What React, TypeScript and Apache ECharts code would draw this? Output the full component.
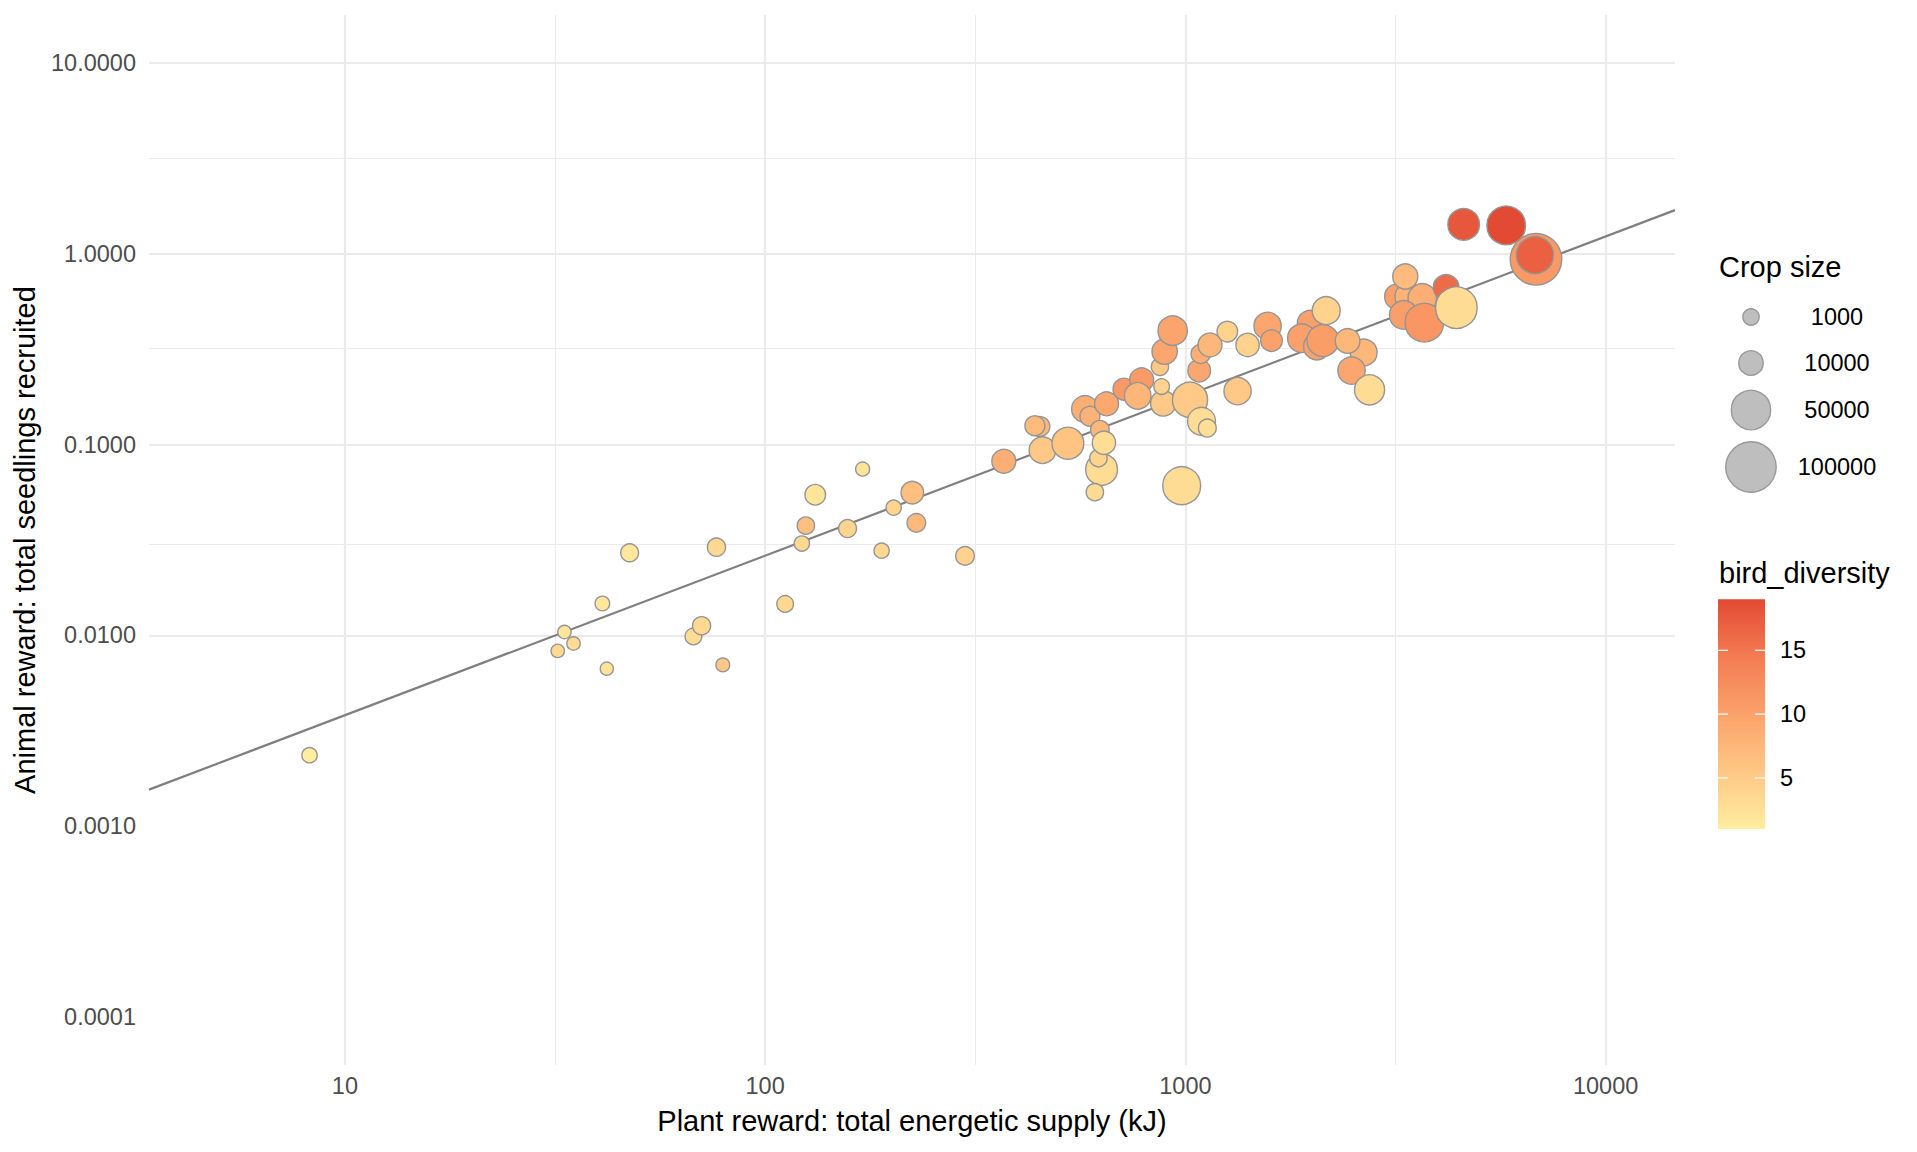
import React, { useEffect, useRef } from "react";
import * as echarts from "echarts";

// Per-plant observations (same order in every array)
const plantReward = [
  8.24, 32.1, 33.3, 35.0, 41.0, 42.0, 47.6, 67.5, 70.6, 76.6, 79.3, 111.6, 122.3, 125.0, 131.6,
  157.1, 170.6, 189.3, 202.2, 224, 229, 299, 369.8, 450.5, 438.4, 457, 525.3, 576.7, 592.7, 626,
  649.4, 631.8, 621, 640, 609, 714.3, 787, 770, 885.6, 878, 869.9, 892.6, 932.7, 980, 1025.6,
  1092.5, 1127.8, 1078.6, 1087.6, 1144.5, 1258.5, 1406, 1331, 1569, 1603, 1981, 1893, 2055, 2124,
  2163, 2656, 2432, 2485, 2743, 3193, 3401, 3662, 3309, 3703, 3336, 4172, 4414, 6828, 6790, 4594,
  5799,
];
const animalReward = [
  0.00236, 0.0083, 0.01043, 0.00908, 0.0147, 0.0067, 0.0271, 0.00988, 0.01124, 0.029, 0.00701,
  0.01462, 0.0303, 0.0376, 0.0546, 0.0363, 0.0744, 0.0278, 0.0467, 0.056, 0.0389, 0.0261, 0.0818,
  0.1244, 0.1254, 0.0934, 0.1016, 0.1535, 0.1406, 0.1195, 0.1634, 0.0741, 0.0848, 0.1022, 0.0563,
  0.1951, 0.2182, 0.18, 0.1644, 0.2013, 0.2552, 0.3069, 0.3951, 0.0609, 0.1715, 0.1323, 0.122,
  0.2441, 0.2985, 0.3326, 0.3904, 0.3326, 0.1905, 0.4182, 0.3503, 0.432, 0.3606, 0.3258, 0.3503,
  0.5028, 0.3032, 0.349, 0.2441, 0.1935, 0.595, 0.595, 0.5859, 0.4774, 0.435, 0.759, 0.665, 0.5213,
  0.9336, 0.983, 1.423, 1.406,
];
const cropSize = [
  540, 50, 50, 50, 300, 20, 2000, 1200, 2200, 2200, 100, 1200, 500, 1600, 4500, 2000, 150, 500,
  500, 7000, 2600, 2600, 9000, 3800, 3800, 13800, 26000, 13800, 3800, 2600, 9000, 26000, 1600,
  8100, 1600, 6100, 9000, 13800, 11400, 700, 1600, 11400, 19600, 44800, 36100, 16500, 2000, 7100,
  3200, 9000, 4500, 8100, 15200, 15200, 5800, 11900, 18000, 13800, 26000, 16500, 14400, 10200,
  15200, 21500, 11400, 15800, 18000, 18000, 47300, 11000, 11900, 58800, 106000, 42000, 25300,
  47300,
];
const birdDiversity = [
  1.0, 3.5, 1.8, 3.0, 1.8, 2.2, 1.7, 3.0, 3.5, 3.5, 5.5, 3.5, 3.5, 6.5, 2.0, 4.0, 2.0, 3.5, 4.0,
  6.5, 7.3, 4.2, 8.5, 7.2, 7.0, 5.4, 6.0, 8.6, 8.0, 7.5, 9.3, 3.0, 4.0, 2.9, 3.2, 11.0, 10.8, 7.7,
  5.1, 4.2, 5.4, 9.5, 9.7, 3.0, 5.1, 2.9, 2.7, 9.5, 8.5, 7.5, 4.2, 4.2, 5.4, 9.5, 10.0, 10.2, 10.2,
  10.0, 10.5, 4.2, 7.5, 7.5, 9.5, 3.0, 10.2, 8.0, 8.5, 10.3, 11.4, 6.9, 16.0, 3.0, 11.0, 17.0,
  17.8, 19.0,
];

// Log-log regression of animal reward on plant reward
const fitIntercept = -3.254;
const fitSlope = 0.836;

// Axis limits (before the 5% expansion) and gridline positions
const xLimits = [5, 10000];
const yLimits = [0.0001, 10];
const xMajorTicks = [10, 100, 1000, 10000];
const yMajorTicks = [0.0001, 0.001, 0.01, 0.1, 1, 10];
const xMinorTicks = [31.62, 316.2, 3162];
const yMinorTicks = [0.0003162, 0.003162, 0.03162, 0.3162, 3.162];

// Legend breaks
const cropBreaks = [1000, 10000, 50000, 100000];
const diversityBreaks = [5, 10, 15];
const diversityRange = [1, 19];
const diversityColors = ["#FFEDA0", "#FFC785", "#FBA26B", "#F37C53", "#E34A33"];

const FONT = '"Liberation Sans", Arial, Helvetica, sans-serif';
const W = 1917;
const H = 1152;
const GRID = { left: 149, right: 242, top: 15, bottom: 87 };

const symbolDiameter = (crop: number) => 12.5 + 0.12 * Math.sqrt(crop);

const expandLog = (lim: number[]) => {
  const a = Math.log10(lim[0]);
  const b = Math.log10(lim[1]);
  const pad = (b - a) * 0.05;
  return [Math.pow(10, a - pad), Math.pow(10, b + pad)];
};

export default function App() {
  const ref = useRef<HTMLDivElement>(null);

  useEffect(() => {
    if (!ref.current) return;
    const chart = echarts.init(ref.current, undefined, { renderer: "svg" });

    const xExt = expandLog(xLimits);
    const yExt = expandLog(yLimits);

    const points = plantReward.map((x, i) => [x, animalReward[i], cropSize[i], birdDiversity[i]]);
    const fitLine = xExt.map((x) => [x, Math.pow(10, fitIntercept + fitSlope * Math.log10(x))]);

    const gridMajor = { color: "#EBEBEB", width: 2.2, type: "solid" as const };
    const gridMinor = { color: "#EBEBEB", width: 1.1, type: "solid" as const };
    const gridLines = [
      ...xMajorTicks.map((v) => ({ xAxis: v, lineStyle: gridMajor })),
      ...xMinorTicks.map((v) => ({ xAxis: v, lineStyle: gridMinor })),
      ...yMajorTicks.map((v) => ({ yAxis: v, lineStyle: gridMajor })),
      ...yMinorTicks.map((v) => ({ yAxis: v, lineStyle: gridMinor })),
    ];

    // Legend geometry
    const legendX = 1719;
    const sizeKeyX = 1751;
    const sizeLabelX = 1837;
    const sizeKeyY = [317, 363, 410, 467];
    const barX = 1718;
    const barW = 47;
    const barTop = 599.3;
    const barH = 229.7;
    const divToY = (v: number) =>
      barTop + barH - ((v - diversityRange[0]) / (diversityRange[1] - diversityRange[0])) * barH;

    const graphics: any[] = [
      {
        type: "text",
        x: legendX,
        y: 267,
        style: { text: "Crop size", font: `29px ${FONT}`, fill: "#000", align: "left", verticalAlign: "middle", textAlign: "left", textVerticalAlign: "middle" },
      },
      ...cropBreaks.map((c, i) => ({
        type: "circle",
        shape: { cx: sizeKeyX, cy: sizeKeyY[i], r: symbolDiameter(c) / 2 },
        style: { fill: "#BEBEBE", stroke: "#999999", lineWidth: 1.4 },
      })),
      ...cropBreaks.map((c, i) => ({
        type: "text",
        x: sizeLabelX,
        y: sizeKeyY[i],
        style: { text: String(c), font: `23.5px ${FONT}`, fill: "#000", align: "center", verticalAlign: "middle", textAlign: "center", textVerticalAlign: "middle" },
      })),
      {
        type: "text",
        x: legendX,
        y: 573,
        style: { text: "bird_diversity", font: `29px ${FONT}`, fill: "#000", align: "left", verticalAlign: "middle", textAlign: "left", textVerticalAlign: "middle" },
      },
      {
        type: "rect",
        shape: { x: barX, y: barTop, width: barW, height: barH },
        style: {
          fill: new echarts.graphic.LinearGradient(
            0, 1, 0, 0,
            diversityColors.map((c, i) => ({ offset: i / (diversityColors.length - 1), color: c }))
          ),
        },
      },
      ...diversityBreaks.flatMap((v) => [
        { type: "line", shape: { x1: barX, y1: divToY(v), x2: barX + 10, y2: divToY(v) }, style: { stroke: "#FFFFFF", lineWidth: 1.2 } },
        { type: "line", shape: { x1: barX + barW - 10, y1: divToY(v), x2: barX + barW, y2: divToY(v) }, style: { stroke: "#FFFFFF", lineWidth: 1.2 } },
        {
          type: "text",
          x: 1780,
          y: divToY(v),
          style: { text: String(v), font: `23.5px ${FONT}`, fill: "#000", align: "left", verticalAlign: "middle", textAlign: "left", textVerticalAlign: "middle" },
        },
      ]),
    ];

    chart.setOption({
      animation: false,
      backgroundColor: "#FFFFFF",
      grid: { ...GRID, containLabel: false },
      xAxis: {
        type: "log",
        logBase: 10,
        min: xExt[0],
        max: xExt[1],
        name: "Plant reward: total energetic supply (kJ)",
        nameLocation: "middle",
        nameGap: 41,
        nameTextStyle: { fontFamily: FONT, fontSize: 29, color: "#000" },
        axisLine: { show: false },
        axisTick: { show: false },
        splitLine: { show: false },
        minorSplitLine: { show: false },
        axisLabel: {
          margin: 9,
          fontFamily: FONT,
          fontSize: 23.5,
          color: "#4D4D4D",
          showMinLabel: false,
          showMaxLabel: false,
          formatter: (v: number) => String(Math.round(v)),
        },
      },
      yAxis: {
        type: "log",
        logBase: 10,
        min: yExt[0],
        max: yExt[1],
        name: "Animal reward: total seedlings recruited",
        nameLocation: "middle",
        nameGap: 110,
        nameRotate: 90,
        nameTextStyle: { fontFamily: FONT, fontSize: 29, color: "#000" },
        axisLine: { show: false },
        axisTick: { show: false },
        splitLine: { show: false },
        minorSplitLine: { show: false },
        axisLabel: {
          margin: 13,
          fontFamily: FONT,
          fontSize: 23.5,
          color: "#4D4D4D",
          showMinLabel: false,
          showMaxLabel: false,
          formatter: (v: number) => v.toFixed(4),
        },
      },
      visualMap: {
        type: "continuous",
        show: false,
        seriesIndex: 2,
        dimension: 3,
        min: diversityRange[0],
        max: diversityRange[1],
        inRange: { color: diversityColors },
      },
      series: [
        {
          type: "line",
          z: 1,
          data: [],
          silent: true,
          markLine: {
            z: 1,
            silent: true,
            symbol: "none",
            label: { show: false },
            emphasis: { disabled: true },
            data: gridLines,
          },
        },
        {
          type: "line",
          z: 2,
          data: fitLine,
          showSymbol: false,
          symbol: "none",
          silent: true,
          lineStyle: { color: "#7F7F7F", width: 2.2 },
        },
        {
          type: "scatter",
          z: 3,
          data: points,
          symbol: "circle",
          symbolSize: (val: number[]) => symbolDiameter(val[2]),
          itemStyle: { borderColor: "#959595", borderWidth: 1.4, opacity: 1 },
          silent: true,
        },
      ],
      graphic: graphics,
    });

    return () => chart.dispose();
  }, []);

  return (
    <div
      ref={ref}
      style={{ position: "absolute", left: 0, top: 0, width: W, height: H, background: "#fff" }}
    />
  );
}
